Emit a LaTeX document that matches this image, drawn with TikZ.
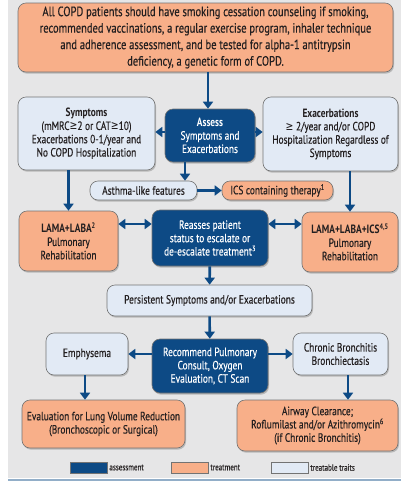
\documentclass[tikz,border=0pt]{standalone}
\usepackage{fontspec}
\setmainfont{PT Sans}[FakeStretch=0.78, UprightFeatures={FakeBold=0.35}]
\newfontfamily\symfont{DejaVu Sans}[FakeStretch=0.78]
\usetikzlibrary{arrows.meta, shadows}

\definecolor{copdblue}{HTML}{0D4A85}
\definecolor{copdorange}{HTML}{F8AF89}
\definecolor{copdlight}{HTML}{E2EAF5}
\definecolor{copdgrey}{HTML}{E6E6E7}
\definecolor{copdtext}{HTML}{231F20}

\newcommand{\geqs}{{\symfont ≥}}

\tikzset{x=1pt, y=-1pt, % pixel grid, y runs downwards
box/.style={rounded corners=8pt, draw=black!55, line width=0.6pt, align=center, inner sep=1pt,
  font=\fontsize{12}{13.3}\selectfont, text=copdtext,
  drop shadow={shadow xshift=1pt, shadow yshift=-1.6pt, opacity=0.45}}, % every box of the chart
assessbox/.style={box, fill=copdblue, text=white}, % dark blue: assessment
treatbox/.style={box, fill=copdorange}, % orange: treatment
traitbox/.style={box, fill=copdlight}, % pale blue: treatable traits
flow/.style={draw=copdblue, line width=2.6pt, -{Triangle[width=10pt,length=7pt]}}, % one-way arrow
both/.style={draw=copdblue, line width=2.6pt, {Triangle[width=10pt,length=7pt]}-{Triangle[width=10pt,length=7pt]}}, % two-way arrow
key/.style={draw=black!55, line width=0.4pt, minimum width=37pt, minimum height=11pt, inner sep=0pt,
  drop shadow={shadow xshift=0.5pt, shadow yshift=-1.2pt, opacity=0.5}}, % legend swatch
keytext/.style={right, inner sep=2pt, font=\fontsize{9}{10}\selectfont, text=copdtext}, % legend label
}

\begin{document}
\begin{tikzpicture}
    \useasboundingbox (0,0) rectangle (401,483);
    \fill[copdgrey] (8,0) rectangle (401,478);
    \draw[copdblue!45, line width=1.2pt] (8,480) -- (401,480);

    \node[treatbox, minimum width=375, minimum height=69, font=\fontsize{13.5}{16.5}\selectfont] (all) at (205.5,37.5)
      {All COPD patients should have smoking cessation counseling if smoking,\\recommended vaccinations, a regular exercise program, inhaler technique\\and adherence assessment, and be tested for alpha-1 antitrypsin\\deficiency, a genetic form of COPD.};
    \node[assessbox, minimum width=90, minimum height=53] (assess) at (210,135.5) {\textbf{Assess}\\Symptoms and\\Exacerbations};
    \node[traitbox, minimum width=137, minimum height=73] (sym) at (86.5,133.5)
      {\textbf{Symptoms}\\(mMRC\geqs2 or CAT\geqs10)\\Exacerbations 0-1/year and\\No COPD Hospitalization};
    \node[traitbox, minimum width=135, minimum height=74] (exa) at (330.5,134)
      {\textbf{Exacerbations}\\\geqs\ 2/year and/or COPD\\Hospitalization Regardless of\\Symptoms};
    \node[traitbox, minimum width=107, minimum height=19] (asthma) at (143.5,190.5) {Asthma-like features};
    \node[treatbox, minimum width=111, minimum height=19] (ics) at (277.5,190.5) {ICS containing therapy\textsuperscript{1}};
    \node[treatbox, minimum width=99, minimum height=60] (lamalaba) at (68.5,241)
      {\textbf{LAMA+LABA\textsuperscript{2}}\\Pulmonary\\Rehabilitation};
    \node[assessbox, minimum width=116, minimum height=56] (reassess) at (210,238)
      {Reasses patient\\status to escalate or\\de-escalate treatment\textsuperscript{3}};
    \node[treatbox, minimum width=96, minimum height=60] (lamaics) at (350,242)
      {\textbf{LAMA+LABA+ICS\textsuperscript{4,5}}\\Pulmonary\\Rehabilitation};
    \node[traitbox, minimum width=205, minimum height=31] (persist) at (209.5,300.5) {Persistent Symptoms and/or Exacerbations};
    \node[assessbox, minimum width=116, minimum height=54] (consult) at (210,366)
      {Recommend Pulmonary\\Consult, Oxygen\\Evaluation, CT Scan};
    \node[traitbox, minimum width=82, minimum height=42] (emph) at (87,354) {Emphysema};
    \node[traitbox, minimum width=95, minimum height=42] (bronch) at (340.5,354) {Chronic Bronchitis\\Bronchiectasis};
    \node[treatbox, minimum width=163, minimum height=48] (lvr) at (103.5,424)
      {Evaluation for Lung Volume Reduction\\(Bronchoscopic or Surgical)};
    \node[treatbox, minimum width=161, minimum height=51] (airway) at (317.5,425.5)
      {Airway Clearance;\\Roflumilast and/or Azithromycin\textsuperscript{6}\\(if Chronic Bronchitis)};

    \draw[flow] (all.south -| 208,0) -- (assess.north -| 208,0);
    \draw[flow] (assess.west |- 0,132) -- (sym.east |- 0,132);
    \draw[flow] (assess.east |- 0,132) -- (exa.west |- 0,132);
    \draw[flow] (assess.south -| 185,0) -- (asthma.north -| 185,0);
    \draw[flow] (asthma) -- (ics);
    \draw[flow] (sym.south -| lamalaba) -- (lamalaba);
    \draw[flow] (exa.south -| lamaics) -- (lamaics);
    \draw[both] (lamalaba.east |- 0,224) -- (reassess.west |- 0,224);
    \draw[both] (reassess.east |- 0,224) -- (lamaics.west |- 0,224);
    \draw[flow] (reassess) -- (persist);
    \draw[flow] (persist) -- (consult);
    \draw[flow] (consult.west |- emph) -- (emph);
    \draw[flow] (consult.east |- bronch) -- (bronch);
    \draw[flow] (emph.south -| 85,0) -- (lvr.north -| 85,0);
    \draw[flow] (bronch.south -| 348,0) -- (airway.north -| 348,0);

    \node[key, fill=copdblue] (keyA) at (88.5,467.5) {};
    \node[keytext] at (keyA.east) {assessment};
    \node[key, fill=copdorange] (keyT) at (189.5,467.5) {};
    \node[keytext] at (keyT.east) {treatment};
    \node[key, fill=copdlight] (keyP) at (289.5,467.5) {};
    \node[keytext] at (keyP.east) {treatable traits};
\end{tikzpicture}
\end{document}
